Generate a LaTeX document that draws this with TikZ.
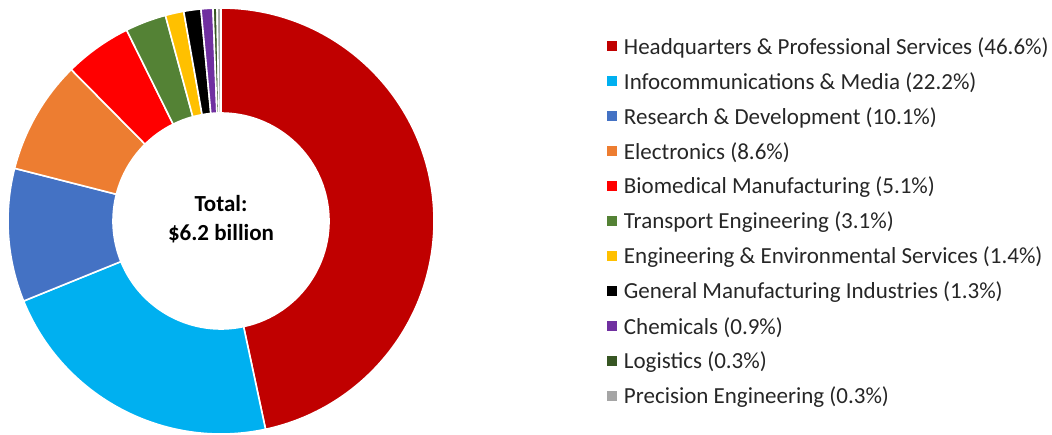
\documentclass[tikz,border=0pt]{standalone}
\usepackage{fontspec}
\setmainfont{Carlito}
\usetikzlibrary{positioning}

% Cores dos setores
\definecolor{hqred}{HTML}{C00000}
\definecolor{infocyan}{HTML}{00B0F0}
\definecolor{rdblue}{HTML}{4472C4}
\definecolor{elecorange}{HTML}{ED7D31}
\definecolor{biored}{HTML}{FF0000}
\definecolor{transgreen}{HTML}{548235}
\definecolor{engyellow}{HTML}{FFC000}
\definecolor{genblack}{HTML}{000000}
\definecolor{chempurple}{HTML}{7030A0}
\definecolor{logigreen}{HTML}{375623}
\definecolor{precgray}{HTML}{A5A5A5}
\definecolor{legtext}{HTML}{262626}

\tikzset{
  slice/.style={draw=white, line width=1.6pt, line join=round},
  legsq/.style={minimum size=9.5pt, inner sep=0pt, outer sep=0pt},
  legtxt/.style={font=\fontsize{23}{27}\selectfont, text=legtext, inner sep=0pt, anchor=west, yshift=-1.5pt}
}

\begin{document}
\begin{tikzpicture}[x=1pt, y=1pt]
    \useasboundingbox (0,0) rectangle (1052,435);

    % Centro e raios do anel
    \def\Cx{221}
    \def\Cy{214}
    \def\Ro{213}   % raio externo
    \def\Ri{108}   % raio interno
    \def\Sum{99.9} % soma das percentagens

    % Fatias, no sentido horario a partir do topo
    \xdef\Ang{90}
    \begin{scope}[shift={(\Cx,\Cy)}]
    \foreach \p/\c in {46.6/hqred, 22.2/infocyan, 10.1/rdblue, 8.6/elecorange,
                       5.1/biored, 3.1/transgreen, 1.4/engyellow, 1.3/genblack,
                       0.9/chempurple, 0.3/logigreen, 0.3/precgray} {
        \pgfmathsetmacro\Next{\Ang - \p/\Sum*360}
        \fill[\c, slice] (\Ang:\Ro) arc[start angle=\Ang, end angle=\Next, radius=\Ro]
            -- (\Next:\Ri) arc[start angle=\Next, end angle=\Ang, radius=\Ri] -- cycle;
        \xdef\Ang{\Next}
    }
    \end{scope}

    % Texto central
    \node[font=\fontsize{23}{29}\selectfont\bfseries, text=black, align=center] (total)
        at (\Cx,216) {Total:\\\$6.2 billion};

    % Legenda
    \foreach \t/\c [count=\i from 0] in {
        Headquarters \& Professional Services (46.6\%)/hqred,
        Infocommunications \& Media (22.2\%)/infocyan,
        Research \& Development (10.1\%)/rdblue,
        Electronics (8.6\%)/elecorange,
        Biomedical Manufacturing (5.1\%)/biored,
        Transport Engineering (3.1\%)/transgreen,
        Engineering \& Environmental Services (1.4\%)/engyellow,
        General Manufacturing Industries (1.3\%)/genblack,
        Chemicals (0.9\%)/chempurple,
        Logistics (0.3\%)/logigreen,
        Precision Engineering (0.3\%)/precgray} {
        \node[legsq, fill=\c] (sq\i) at (612, 389-35*\i) {};
        \node[legtxt, right=7pt of sq\i] (lab\i) {\t};
    }

\end{tikzpicture}
\end{document}
